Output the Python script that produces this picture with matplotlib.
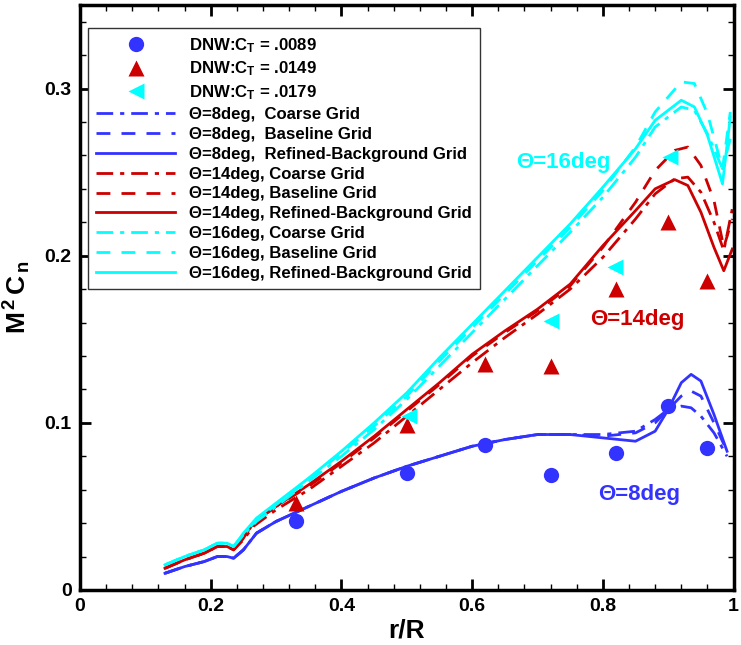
import numpy as np
import matplotlib
matplotlib.use('Agg')
import matplotlib.pyplot as plt
from matplotlib.lines import Line2D
from matplotlib.ticker import MultipleLocator

plt.rcParams['font.family'] = ['Liberation Sans', 'DejaVu Sans']
plt.rcParams['font.weight'] = 'bold'
plt.rcParams['mathtext.fontset'] = 'custom'
plt.rcParams['mathtext.rm'] = 'Liberation Sans:bold'
plt.rcParams['mathtext.bf'] = 'Liberation Sans:bold'
plt.rcParams['mathtext.it'] = 'Liberation Sans:bold'

# experiment (DNW)
exp8_x = [0.33, 0.50, 0.62, 0.72, 0.82, 0.90, 0.96]
exp8_y = [0.041, 0.070, 0.087, 0.069, 0.082, 0.110, 0.085]
exp14_x = [0.33, 0.50, 0.62, 0.72, 0.82, 0.90, 0.96]
exp14_y = [0.052, 0.099, 0.135, 0.134, 0.180, 0.220, 0.185]
exp16_x = [0.503, 0.72, 0.818, 0.902]
exp16_y = [0.104, 0.161, 0.193, 0.259]

# CFD, theta = 8 deg
b8_x = [0.13, 0.16, 0.19, 0.21, 0.225, 0.235, 0.25, 0.27, 0.30, 0.35, 0.40, 0.45, 0.50, 0.55,
        0.60, 0.65, 0.70, 0.75, 0.80, 0.85, 0.88, 0.90, 0.92, 0.935, 0.95, 0.97, 0.99]
ref8 = [0.010, 0.014, 0.017, 0.020, 0.020, 0.019, 0.024, 0.034, 0.041, 0.050, 0.059, 0.067, 0.074, 0.080,
        0.086, 0.090, 0.093, 0.093, 0.091, 0.089, 0.095, 0.108, 0.124, 0.129, 0.125, 0.105, 0.083]
base8 = [0.010, 0.014, 0.017, 0.020, 0.020, 0.019, 0.024, 0.034, 0.041, 0.050, 0.059, 0.067, 0.074, 0.080,
         0.086, 0.090, 0.093, 0.093, 0.092, 0.094, 0.100, 0.108, 0.116, 0.119, 0.116, 0.100, 0.083]
coarse8 = [0.010, 0.014, 0.017, 0.020, 0.020, 0.019, 0.024, 0.034, 0.041, 0.050, 0.059, 0.067, 0.074, 0.080,
           0.086, 0.090, 0.093, 0.093, 0.093, 0.095, 0.102, 0.108, 0.110, 0.109, 0.104, 0.094, 0.080]

# CFD, theta = 14 deg
b14_x = [0.13, 0.16, 0.19, 0.21, 0.225, 0.235, 0.25, 0.265, 0.30, 0.35, 0.40, 0.45, 0.50, 0.55,
         0.60, 0.65, 0.70, 0.75, 0.80, 0.85, 0.88, 0.91, 0.93, 0.95, 0.97, 0.985, 0.998]
ref14 = [0.013, 0.018, 0.022, 0.026, 0.026, 0.024, 0.031, 0.040, 0.050, 0.063, 0.077, 0.092, 0.108, 0.124,
         0.141, 0.155, 0.168, 0.183, 0.206, 0.227, 0.240, 0.2455, 0.242, 0.226, 0.205, 0.191, 0.204]
base14 = [0.013, 0.018, 0.022, 0.026, 0.026, 0.024, 0.031, 0.040, 0.050, 0.062, 0.076, 0.091, 0.107, 0.123,
          0.140, 0.154, 0.167, 0.182, 0.205, 0.232, 0.251, 0.263, 0.265, 0.254, 0.233, 0.205, 0.222]
coarse14 = [0.013, 0.018, 0.022, 0.026, 0.026, 0.024, 0.030, 0.038, 0.048, 0.060, 0.074, 0.088, 0.104, 0.120,
            0.136, 0.151, 0.165, 0.180, 0.199, 0.222, 0.237, 0.246, 0.247, 0.238, 0.220, 0.203, 0.228]

# CFD, theta = 16 deg
b16_x = [0.13, 0.16, 0.19, 0.21, 0.225, 0.235, 0.25, 0.27, 0.30, 0.35, 0.40, 0.45, 0.50, 0.55,
         0.60, 0.65, 0.70, 0.75, 0.80, 0.85, 0.88, 0.92, 0.94, 0.96, 0.983, 0.995]
ref16 = [0.015, 0.020, 0.024, 0.028, 0.028, 0.026, 0.034, 0.043, 0.052, 0.067, 0.083, 0.100, 0.118, 0.139,
         0.159, 0.179, 0.199, 0.219, 0.241, 0.264, 0.281, 0.293, 0.289, 0.272, 0.243, 0.283]
base16 = [0.015, 0.020, 0.024, 0.028, 0.028, 0.026, 0.033, 0.042, 0.051, 0.066, 0.082, 0.098, 0.116, 0.137,
          0.157, 0.177, 0.197, 0.217, 0.239, 0.265, 0.286, 0.304, 0.303, 0.285, 0.252, 0.286]
coarse16 = [0.015, 0.020, 0.024, 0.028, 0.028, 0.026, 0.033, 0.041, 0.050, 0.065, 0.080, 0.096, 0.114, 0.134,
            0.154, 0.174, 0.194, 0.214, 0.235, 0.259, 0.277, 0.289, 0.287, 0.273, 0.252, 0.270]

blue = '#3333ff'
red = '#cc0000'
cyan = '#00ffff'
dashdot = (0, (6, 2.5, 1.5, 2.5))
dashed = (0, (5, 4))
lw = 2.0

fig = plt.figure(figsize=(7.41, 6.45), dpi=100)
ax = fig.add_axes([0.108, 0.0853, 0.882, 0.907])

ax.plot(b8_x, coarse8, color=blue, lw=lw, ls=dashdot)
ax.plot(b8_x, base8, color=blue, lw=lw, ls=dashed)
ax.plot(b8_x, ref8, color=blue, lw=lw, ls='-')
ax.plot(b14_x, coarse14, color=red, lw=lw, ls=dashdot)
ax.plot(b14_x, base14, color=red, lw=lw, ls=dashed)
ax.plot(b14_x, ref14, color=red, lw=lw, ls='-')
ax.plot(b16_x, coarse16, color=cyan, lw=lw, ls=dashdot)
ax.plot(b16_x, base16, color=cyan, lw=lw, ls=dashed)
ax.plot(b16_x, ref16, color=cyan, lw=lw, ls='-')

ax.plot(exp8_x, exp8_y, 'o', color=blue, ms=11, mec='none')
ax.plot(exp14_x, exp14_y, '^', color=red, ms=12, mec='none')
ax.plot(exp16_x, exp16_y, '<', color=cyan, ms=12, mec='none')

ax.text(0.74, 0.256, 'Θ=16deg', color=cyan, fontsize=16, fontweight='bold', ha='center', va='center')
ax.text(0.852, 0.162, 'Θ=14deg', color=red, fontsize=16, fontweight='bold', ha='center', va='center')
ax.text(0.855, 0.057, 'Θ=8deg', color=blue, fontsize=16, fontweight='bold', ha='center', va='center')

ax.set_xlim(0, 1)
ax.set_ylim(0, 0.35)
ax.xaxis.set_minor_locator(MultipleLocator(0.04))
ax.yaxis.set_minor_locator(MultipleLocator(0.02))
ax.set_xticks([0, 0.2, 0.4, 0.6, 0.8, 1.0])
ax.set_xticklabels(['0', '0.2', '0.4', '0.6', '0.8', '1'])
ax.set_yticks([0, 0.1, 0.2, 0.3])
ax.set_yticklabels(['0', '0.1', '0.2', '0.3'])
ax.tick_params(which='both', direction='in', top=True, right=True, labelsize=14)
ax.tick_params(which='major', length=8, width=2, pad=6)
ax.tick_params(which='minor', length=4, width=1)
for s in ax.spines.values():
    s.set_linewidth(2.5)

ax.set_xlabel('r/R', fontsize=19, fontweight='bold', labelpad=2)
ax.set_ylabel(r'$\mathbf{M^{\,2}\,C_{\,n}}$', fontsize=19, labelpad=8)

handles = [
    Line2D([], [], ls='none', marker='o', color=blue, ms=11, mec='none'),
    Line2D([], [], ls='none', marker='^', color=red, ms=12, mec='none'),
    Line2D([], [], ls='none', marker='<', color=cyan, ms=12, mec='none'),
    Line2D([], [], color=blue, lw=lw, ls=dashdot),
    Line2D([], [], color=blue, lw=lw, ls=dashed),
    Line2D([], [], color=blue, lw=lw, ls='-'),
    Line2D([], [], color=red, lw=lw, ls=dashdot),
    Line2D([], [], color=red, lw=lw, ls=dashed),
    Line2D([], [], color=red, lw=lw, ls='-'),
    Line2D([], [], color=cyan, lw=lw, ls=dashdot),
    Line2D([], [], color=cyan, lw=lw, ls=dashed),
    Line2D([], [], color=cyan, lw=lw, ls='-'),
]
labels = [
    r'DNW:C$_\mathbf{T}$ = .0089',
    r'DNW:C$_\mathbf{T}$ = .0149',
    r'DNW:C$_\mathbf{T}$ = .0179',
    'Θ=8deg,  Coarse Grid',
    'Θ=8deg,  Baseline Grid',
    'Θ=8deg,  Refined-Background Grid',
    'Θ=14deg, Coarse Grid',
    'Θ=14deg, Baseline Grid',
    'Θ=14deg, Refined-Background Grid',
    'Θ=16deg, Coarse Grid',
    'Θ=16deg, Baseline Grid',
    'Θ=16deg, Refined-Background Grid',
]
leg = ax.legend(handles, labels, loc='upper left', bbox_to_anchor=(0.012, 0.961),
                prop={'size': 12.1, 'weight': 'bold'}, handlelength=4.7, handletextpad=0.8,
                labelspacing=0.29, fancybox=False, framealpha=1, borderaxespad=0, borderpad=0.5)
leg.get_frame().set_edgecolor('#333333')
leg.get_frame().set_linewidth(1.0)

fig.savefig('out.png', dpi=100)
